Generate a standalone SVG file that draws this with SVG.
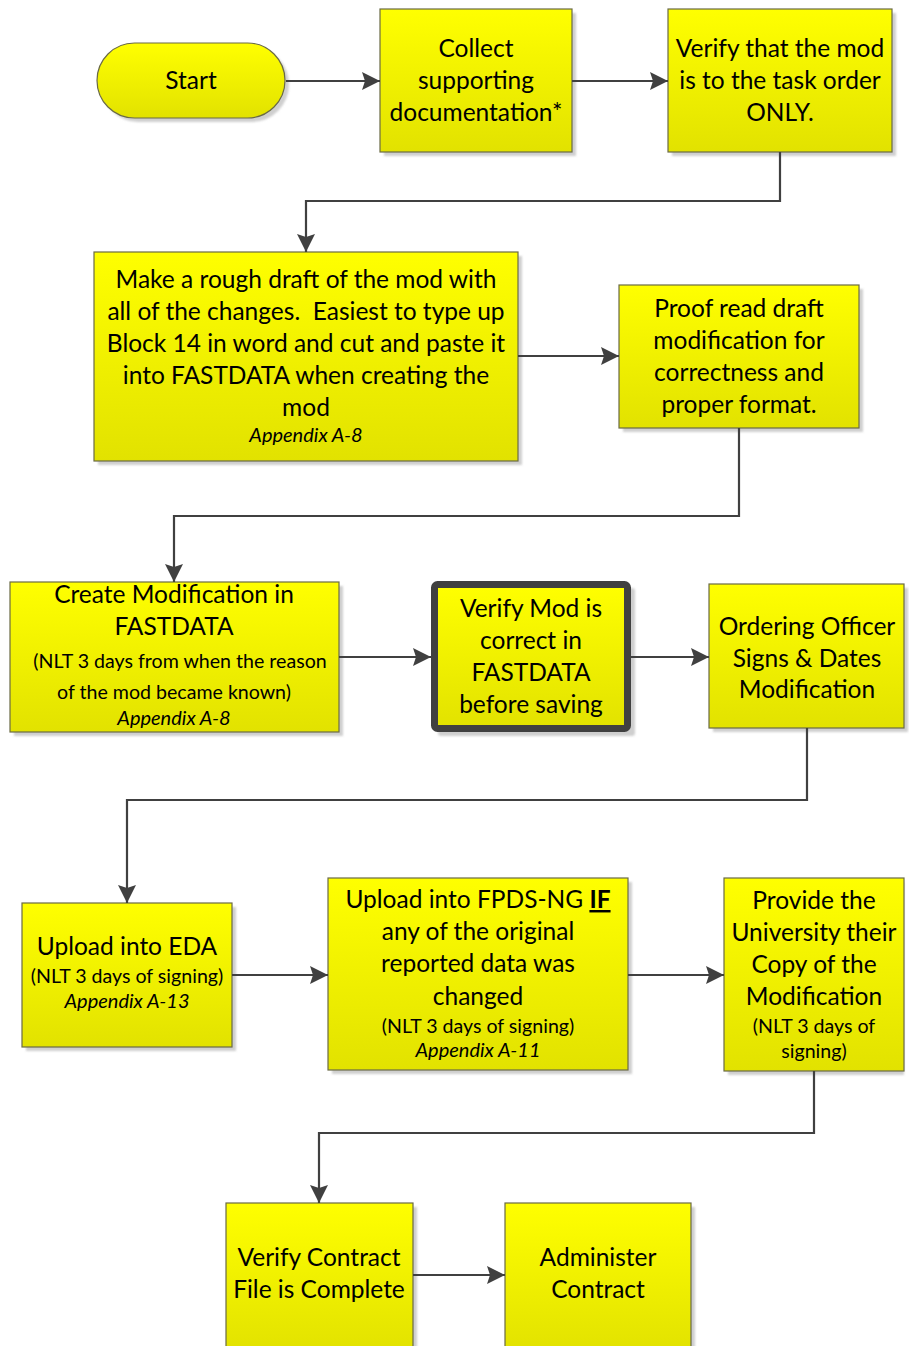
<svg xmlns="http://www.w3.org/2000/svg" width="909" height="1346" viewBox="0 0 909 1346">
<defs>
<linearGradient id="yg" x1="0" y1="0" x2="0" y2="1">
<stop offset="0" stop-color="#FFFF00"/>
<stop offset="1" stop-color="#E2E200"/>
</linearGradient>
<filter id="sh" x="-10%" y="-10%" width="130%" height="130%">
<feGaussianBlur stdDeviation="1.2"/>
</filter>
<marker id="ah" markerUnits="userSpaceOnUse" markerWidth="20" markerHeight="20" refX="18" refY="9" orient="auto">
<path d="M0,0 L18,9 L0,18 L3,9 Z" fill="#404040"/>
</marker>
<style>
.box{fill:url(#yg);stroke:#6a6a45;stroke-width:1.2}
.shd{fill:#cfcfcf;filter:url(#sh)}
.big{font-family:Lato,"Liberation Sans",sans-serif;font-size:24.5px;fill:#000;text-anchor:middle}
.sm{font-family:Lato,"Liberation Sans",sans-serif;font-size:19.6px;fill:#000;text-anchor:middle}
.it{font-family:Lato,"Liberation Sans",sans-serif;font-size:20px;font-style:italic;fill:#000;text-anchor:middle}
.con{fill:none;stroke:#404040;stroke-width:2.2;marker-end:url(#ah)}
</style>
</defs>
<rect width="909" height="1346" fill="#fff"/>

<g id="start">
<rect class="shd" x="101" y="47" width="188" height="75" rx="37.5"/>
<rect class="box" x="97" y="43" width="188" height="75" rx="37.5"/>
<text class="big" x="191" y="89">Start</text>
</g>

<g id="collect">
<rect class="shd" x="384" y="13" width="192" height="143"/>
<rect class="box" x="380" y="9" width="192" height="143"/>
<text class="big" x="476" y="57">Collect</text>
<text class="big" x="476" y="89">supporting</text>
<text class="big" x="476" y="121">documentation*</text>
</g>

<g id="verify-task">
<rect class="shd" x="672" y="13" width="224" height="143"/>
<rect class="box" x="668" y="9" width="224" height="143"/>
<text class="big" x="780" y="57">Verify that the mod</text>
<text class="big" x="780" y="89">is to the task order</text>
<text class="big" x="780" y="121">ONLY.</text>
</g>

<g id="rough-draft">
<rect class="shd" x="98" y="256" width="424" height="209"/>
<rect class="box" x="94" y="252" width="424" height="209"/>
<text class="big" x="306" y="288">Make a rough draft of the mod with</text>
<text class="big" x="306" y="320" xml:space="preserve">all of the changes.  Easiest to type up</text>
<text class="big" x="306" y="352">Block 14 in word and cut and paste it</text>
<text class="big" x="306" y="384">into FASTDATA when creating the</text>
<text class="big" x="306" y="416">mod</text>
<text class="it" x="306" y="442">Appendix A-8</text>
</g>

<g id="proof-read">
<rect class="shd" x="623" y="289" width="240" height="143"/>
<rect class="box" x="619" y="285" width="240" height="143"/>
<text class="big" x="739" y="317">Proof read draft</text>
<text class="big" x="739" y="349">modification for</text>
<text class="big" x="739" y="381">correctness and</text>
<text class="big" x="739" y="413">proper format.</text>
</g>

<g id="create-mod">
<rect class="shd" x="14" y="586" width="329" height="150"/>
<rect class="box" x="10" y="582" width="329" height="150"/>
<text class="big" x="174" y="603">Create Modification in</text>
<text class="big" x="174" y="635">FASTDATA</text>
<text class="sm" x="180" y="668">(NLT 3 days from when the reason</text>
<text class="sm" x="174" y="699">of the mod became known)</text>
<text class="it" x="174" y="725">Appendix A-8</text>
</g>

<g id="verify-mod">
<rect class="shd" x="438" y="588" width="197" height="148" rx="3"/>
<rect x="434.5" y="584.5" width="193" height="144" rx="3" fill="url(#yg)" stroke="#404040" stroke-width="7"/>
<text class="big" x="531" y="617">Verify Mod is</text>
<text class="big" x="531" y="649">correct in</text>
<text class="big" x="531" y="681">FASTDATA</text>
<text class="big" x="531" y="713">before saving</text>
</g>

<g id="ordering-officer">
<rect class="shd" x="713" y="588" width="195" height="144"/>
<rect class="box" x="709" y="584" width="195" height="144"/>
<text class="big" x="807" y="635">Ordering Officer</text>
<text class="big" x="807" y="667">Signs &amp; Dates</text>
<text class="big" x="807" y="698">Modification</text>
</g>

<g id="upload-eda">
<rect class="shd" x="26" y="907" width="210" height="144"/>
<rect class="box" x="22" y="903" width="210" height="144"/>
<text class="big" x="127" y="955">Upload into EDA</text>
<text class="sm" x="127" y="983">(NLT 3 days of signing)</text>
<text class="it" x="127" y="1008">Appendix A-13</text>
</g>

<g id="upload-fpds">
<rect class="shd" x="332" y="882" width="300" height="192"/>
<rect class="box" x="328" y="878" width="300" height="192"/>
<text class="big" x="478" y="908">Upload into FPDS-NG <tspan font-weight="bold" text-decoration="underline">IF</tspan></text>
<text class="big" x="478" y="940">any of the original</text>
<text class="big" x="478" y="972">reported data was</text>
<text class="big" x="478" y="1005">changed</text>
<text class="sm" x="478" y="1033">(NLT 3 days of signing)</text>
<text class="it" x="478" y="1057">Appendix A-11</text>
</g>

<g id="provide-university">
<rect class="shd" x="728" y="882" width="176" height="193"/>
<rect class="box" x="724" y="878" width="180" height="193"/>
<text class="big" x="814" y="909">Provide the</text>
<text class="big" x="814" y="941">University their</text>
<text class="big" x="814" y="973">Copy of the</text>
<text class="big" x="814" y="1005">Modification</text>
<text class="sm" x="814" y="1033">(NLT 3 days of</text>
<text class="sm" x="814" y="1058">signing)</text>
</g>

<g id="verify-contract">
<rect class="shd" x="230" y="1207" width="187" height="150"/>
<rect class="box" x="226" y="1203" width="187" height="150"/>
<text class="big" x="319" y="1266">Verify Contract</text>
<text class="big" x="319" y="1298">File is Complete</text>
</g>

<g id="administer">
<rect class="shd" x="509" y="1207" width="186" height="150"/>
<rect class="box" x="505" y="1203" width="186" height="150"/>
<text class="big" x="598" y="1266">Administer</text>
<text class="big" x="598" y="1298">Contract</text>
</g>

<g id="connectors">
<path class="con" d="M286,81 H380"/>
<path class="con" d="M572,81 H668"/>
<path class="con" d="M780,152 V201 H306 V252"/>
<path class="con" d="M518,356 H619"/>
<path class="con" d="M739,428 V516 H174 V582"/>
<path class="con" d="M339,657 H431"/>
<path class="con" d="M631,657 H709"/>
<path class="con" d="M807,728 V800 H127 V903"/>
<path class="con" d="M232,975 H328"/>
<path class="con" d="M628,975 H724"/>
<path class="con" d="M814,1071 V1133 H319 V1203"/>
<path class="con" d="M413,1275 H505"/>
</g>
</svg>
